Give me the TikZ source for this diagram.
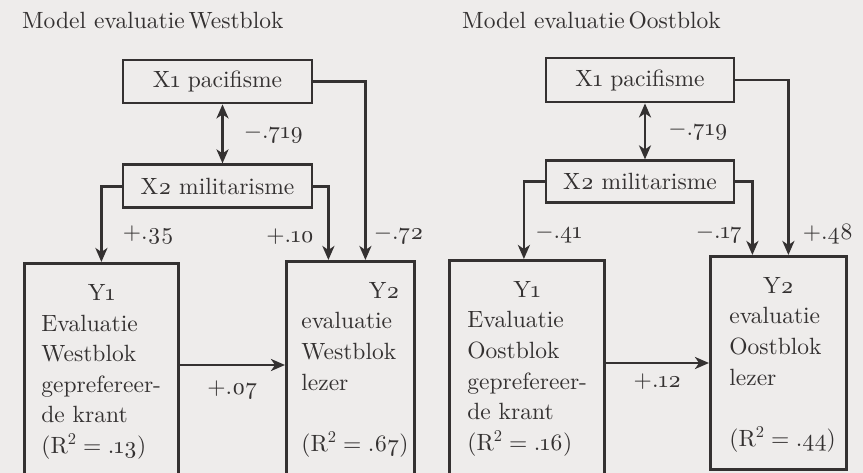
\documentclass[tikz,border=0pt]{standalone}
\usepackage{fix-cm}
\usepackage{fontspec}
\setmainfont{lmroman10-regular.otf}
\usepackage{xcolor}
\usepackage{tikz}
\usetikzlibrary{positioning, arrows.meta}

\definecolor{paper}{RGB}{238,236,235}
\definecolor{ink}{RGB}{52,49,49}

\begin{document}
\begin{tikzpicture}[
  x=1pt, y=-1pt,
  font=\fontsize{23.5}{30.6}\selectfont,
  xbox/.style={draw=ink, text=ink, line width=2.8pt, minimum width=189pt,
    minimum height=43pt, inner sep=0pt},
  ybox/.style={draw=ink, text=ink, line width=2.8pt, anchor=north west,
    align=left, inner xsep=17pt, inner ysep=20pt, text height=17pt},
  rel/.style={draw=ink, line width=2.8pt,
    -{Stealth[length=14pt, width=12pt, inset=4pt]}},
  corr/.style={draw=ink, line width=2.8pt,
    {Stealth[length=14pt, width=12pt, inset=4pt]}-{Stealth[length=14pt, width=12pt, inset=4pt]}},
  wt/.style={text=ink, inner sep=0pt},
  title/.style={text=ink, anchor=base west, inner sep=0pt},
]
  \useasboundingbox (0,0) rectangle (863,473);
  \clip (0,0) rectangle (863,473);
  \fill[paper] (0,0) rectangle (863,473);

  % Model Westblok
  \node[title] (tw) at (22,29) {Model evaluatie\,Westblok};
  \node[xbox] (x1w) at (217.5,81.5) {X\oldstylenums{1} pacifisme};
  \node[xbox, below=59pt of x1w] (x2w) {X\oldstylenums{2} militarisme};
  \node[ybox, text width=120pt, text depth=201pt] (y1w) at (23,262)
    {\makebox[\linewidth]{Y\oldstylenums{1}}\\Evaluatie\\Westblok\\\mbox{geprefereer-}\\de~krant\\
     (R\textsuperscript{2}\;=\;.\oldstylenums{13})};
  \node[ybox, inner xsep=15pt, text width=98pt, text depth=201pt] (y2w) at (285,260)
    {\makebox[\linewidth][r]{Y\oldstylenums{2}}\\evaluatie\\Westblok\\lezer\\[30.6pt]
     (R\textsuperscript{2}\;=\;.\oldstylenums{67})};

  % Model Oostblok
  \node[title] (te) at (462,29) {Model evaluatie\,Oostblok};
  \node[xbox, minimum width=188pt, minimum height=44pt] (x1e) at (640,80) {X\oldstylenums{1} pacifisme};
  \node[xbox, minimum width=188pt, minimum height=42pt, below=56pt of x1e] (x2e) {X\oldstylenums{2} militarisme};
  \node[ybox, inner xsep=18pt, text width=119pt, text depth=201pt] (y1e) at (448,259)
    {\makebox[\linewidth]{Y\oldstylenums{1}}\\Evaluatie\\Oostblok\\\mbox{geprefereer-}\\de~krant\\
     (R\textsuperscript{2}\;=\;.\oldstylenums{16})};
  \node[ybox, inner xsep=19pt, text width=98pt, text depth=156pt] (y2e) at (709,255)
    {\makebox[\linewidth]{Y\oldstylenums{2}}\\evaluatie\\Oostblok\\lezer\\[30.6pt]
     (R\textsuperscript{2}\;=\;.\oldstylenums{44})};

  % Paths Westblok
  \draw[corr] ([xshift=5pt]x1w.south) -- node[wt, right=20pt]{$-$.\oldstylenums{719}} ([xshift=5pt]x2w.north);
  \draw[rel] (x2w.west) -| node[wt, pos=0.82, right=20pt]{+.\oldstylenums{35}} (y1w.north);
  \draw[rel] (x2w.east) -| node[wt, pos=0.84, left=13pt]{+.\oldstylenums{10}} ([xshift=-22pt]y2w.north);
  \draw[rel] (x1w.east) -| node[wt, pos=0.93, right=7pt]{$-$.\oldstylenums{72}} ([xshift=15pt]y2w.north);
  \draw[rel] ([yshift=-103pt]y1w.north east) -- node[wt, below=14pt]{+.\oldstylenums{07}}
    ([yshift=-103pt]y1w.north east -| y2w.west);

  % Paths Oostblok
  \draw[corr] ([xshift=5pt]x1e.south) -- node[wt, right=22pt]{$-$.\oldstylenums{719}} ([xshift=5pt]x2e.north);
  \draw[rel] (x2e.west) -| node[wt, pos=0.84, right=10pt]{$-$.\oldstylenums{41}} ([xshift=-3pt]y1e.north);
  \draw[rel] (x2e.east) -| node[wt, pos=0.86, left=9pt]{$-$.\oldstylenums{17}} ([xshift=-26pt]y2e.north);
  \draw[rel] (x1e.east) -| node[wt, pos=0.94, right=13pt]{+.\oldstylenums{48}} ([xshift=10pt]y2e.north);
  \draw[rel] ([yshift=-104pt]y1e.north east) -- node[wt, below=9pt]{+.\oldstylenums{12}}
    ([yshift=-104pt]y1e.north east -| y2e.west);
\end{tikzpicture}
\end{document}
